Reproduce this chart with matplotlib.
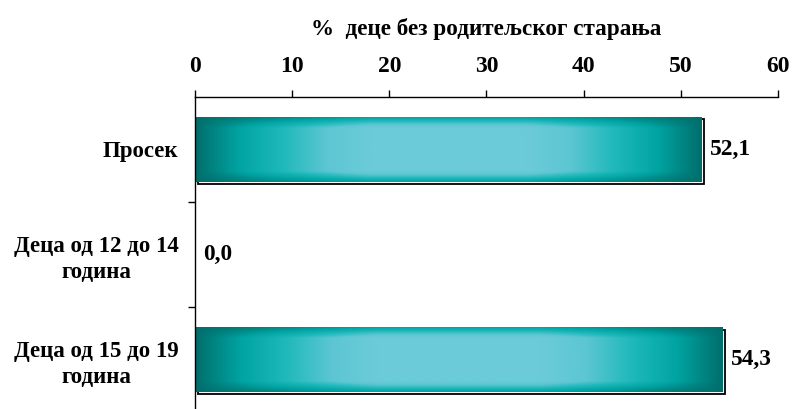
import numpy as np
import matplotlib
matplotlib.use("Agg")
import matplotlib.pyplot as plt
import matplotlib.transforms as mtransforms
from matplotlib.colors import LinearSegmentedColormap

categories = ["Просек", "Деца од 12 до 14\nгодина", "Деца од 15 до 19\nгодина"]
values = [52.1, 0.0, 54.3]
value_labels = ["52,1", "0,0", "54,3"]
xticks = [0, 10, 20, 30, 40, 50, 60]
axis_title = "%  деце без родитељског старања"

plt.rcParams["font.family"] = ["Liberation Serif", "DejaVu Serif"]
plt.rcParams["font.weight"] = "bold"

fig = plt.figure(figsize=(7.94, 4.09), dpi=100)
ax = fig.add_axes([0.2456, 0.0, 0.7342, 0.763])

y = np.arange(len(categories))
bar_h = 0.61
bars = ax.barh(y, values, height=bar_h, facecolor="none", edgecolor="none", zorder=2)

# teal "cylinder" gradient for the bar fill
cmap = LinearSegmentedColormap.from_list(
    "teal", ["#006f6c", "#00a4a2", "#1fb9bb", "#5cc6d2", "#6ccbd9"])
nx, ny = 400, 80
u = np.linspace(0, 1, nx)
w = np.linspace(0, 1, ny)
ph = 1 - np.abs(2 * u - 1)
ph = np.clip(ph * 1.45, 0, 1)
pv = 1 - np.abs(2 * w - 1)
pv = np.clip(pv * 3.0, 0, 1)
grad = (ph[None, :] * (0.25 + 0.75 * pv[:, None]))

shadow_tr = mtransforms.offset_copy(ax.transData, fig=fig, x=2.5, y=-2.0, units="dots")
for b, v in zip(bars, values):
    if v <= 0:
        continue
    x0, y0 = b.get_x(), b.get_y()
    bw, bh = b.get_width(), b.get_height()
    frame = plt.Rectangle((x0, y0), bw, bh, facecolor="white", edgecolor="black",
                          linewidth=1.3, transform=shadow_tr, zorder=1)
    ax.add_patch(frame)
    ax.imshow(grad, cmap=cmap, aspect="auto", interpolation="bilinear",
              extent=(x0, x0 + bw, y0 + bh, y0), zorder=2)

for yi, v, lab in zip(y, values, value_labels):
    ax.annotate(lab, xy=(v, yi), xytext=(6, 0), textcoords="offset points",
                va="center", ha="left", fontsize=16.8, fontweight="bold")

ax.set_xlim(0, 60)
ax.set_ylim(2.47, -0.5)
ax.xaxis.tick_top()
ax.xaxis.set_label_position("top")
ax.set_xticks(xticks)
ax.set_xticklabels([str(t) for t in xticks], fontsize=17, fontweight="bold")
ax.set_xlabel(axis_title, fontsize=16.7, fontweight="bold", labelpad=15)
ax.tick_params(axis="x", direction="out", length=5, width=1, pad=9.5)

ax.set_yticks(y)
ax.set_yticklabels(categories, fontsize=16.5, fontweight="bold", ha="right",
                   multialignment="center", linespacing=1.3)
ax.tick_params(axis="y", which="major", length=0, pad=12)
ax.set_yticks([0.5, 1.5], minor=True)
ax.tick_params(axis="y", which="minor", direction="out", length=5, width=1)

for s in ["right", "bottom"]:
    ax.spines[s].set_visible(False)
for s in ["left", "top"]:
    ax.spines[s].set_linewidth(1.0)

fig.savefig("out.png", dpi=100)
